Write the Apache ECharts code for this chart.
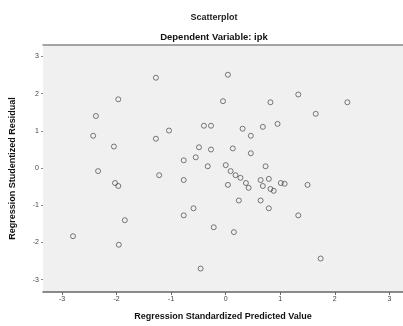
<!DOCTYPE html>
<html>
<head>
<meta charset="utf-8">
<script src="https://cdn.jsdelivr.net/npm/echarts@6/dist/echarts.min.js"></script>
<style>
  html, body { margin: 0; padding: 0; background: #ffffff; }
  #chart { width: 403px; height: 326px; }
</style>
</head>
<body>
<div id="chart"></div>
<script>
// 数据: [predicted, residual]
const predicted = [
  -1.28, 0.04, -1.97, -2.38, -2.43, -1.04, -1.28, -0.40, -0.27, -0.05,
  0.82, 1.33, 2.23, 1.65, 0.31, 0.68, 0.95, 0.46, -2.05, -0.49,
  -0.27, 0.13, 0.46, -0.77, -0.55, -0.33, 0.00, 0.73, -2.34, -1.22,
  -0.77, -1.97, -2.03, 0.09, 0.18, 0.27, 0.37, 0.42, 0.04, 0.64,
  0.79, 0.68, 0.82, 1.01, 1.08, 0.88, 1.50, 0.24, 0.64, 0.79,
  1.33, -0.59, -0.77, -0.22, 0.15, -1.85, -2.80, -1.96, -0.46, 1.74
]
const residual = [
  2.43, 2.51, 1.85, 1.40, 0.87, 1.01, 0.79, 1.14, 1.14, 1.80,
  1.77, 1.98, 1.77, 1.46, 1.06, 1.11, 1.19, 0.87, 0.58, 0.56,
  0.50, 0.53, 0.40, 0.21, 0.29, 0.05, 0.08, 0.05, -0.08, -0.19,
  -0.32, -0.48, -0.40, -0.08, -0.19, -0.26, -0.40, -0.53, -0.45, -0.32,
  -0.29, -0.48, -0.56, -0.40, -0.42, -0.61, -0.45, -0.87, -0.87, -1.08,
  -1.27, -1.08, -1.27, -1.59, -1.72, -1.40, -1.83, -2.06, -2.70, -2.43
]
const xTicks = [-3, -2, -1, 0, 1, 2, 3]
const yTicks = [-3, -2, -1, 0, 1, 2, 3]

const points = predicted.map((v, i) => [v, residual[i]])

const myChart = echarts.init(document.getElementById('chart'))

const font = 'Liberation Sans, Arial, sans-serif'

const options = {
  animation: false,
  backgroundColor: '#ffffff',
  title: [
    {
      text: 'Scatterplot',
      left: 209,
      top: 8,
      textAlign: 'center',
      textStyle: { fontFamily: font, fontSize: 9, fontWeight: 'bold', color: '#222' }
    },
    {
      text: 'Dependent Variable: ipk',
      left: 209,
      top: 27,
      textAlign: 'center',
      textStyle: { fontFamily: font, fontSize: 9.5, fontWeight: 'bold', color: '#111' }
    }
  ],
  grid: {
    show: true,
    left: 42,
    right: 0,
    top: 45,
    bottom: 30,
    backgroundColor: '#f0f0f0',
    borderWidth: 0
  },
  xAxis: [
    {
      type: 'value',
      min: -3.35,
      max: 3.25,
      name: 'Regression Standardized Predicted Value',
      nameLocation: 'middle',
      nameGap: 20,
      nameTextStyle: { fontFamily: font, fontSize: 9, fontWeight: 'bold', color: '#111' },
      splitLine: { show: false },
      axisLine: { show: true, onZero: false, lineStyle: { color: '#666', width: 1.5 } },
      axisTick: { show: true, length: 3, customValues: xTicks, lineStyle: { color: '#666' } },
      axisLabel: { customValues: xTicks, fontFamily: font, fontSize: 7, color: '#444', margin: 4 }
    },
    {
      type: 'value',
      position: 'top',
      min: -3.35,
      max: 3.25,
      splitLine: { show: false },
      axisLine: { show: true, onZero: false, lineStyle: { color: '#888', width: 1.5 } },
      axisTick: { show: false },
      axisLabel: { show: false }
    }
  ],
  yAxis: {
    type: 'value',
    min: -3.33,
    max: 3.31,
    name: 'Regression Studentized Residual',
    nameLocation: 'middle',
    nameGap: 26,
    nameTextStyle: { fontFamily: font, fontSize: 9, fontWeight: 'bold', color: '#111' },
    splitLine: { show: false },
    axisLine: { show: false, onZero: false },
    axisTick: { show: true, length: 2, customValues: yTicks, lineStyle: { color: '#888' } },
    axisLabel: { customValues: yTicks, fontFamily: font, fontSize: 7, color: '#444', margin: 4 }
  },
  series: [
    {
      type: 'scatter',
      xAxisIndex: 0,
      symbol: 'circle',
      symbolSize: 5,
      itemStyle: { color: 'rgba(0,0,0,0)', borderColor: '#333', borderWidth: 0.8 },
      data: points
    }
  ]
}
myChart.setOption(options)
</script>
</body>
</html>
